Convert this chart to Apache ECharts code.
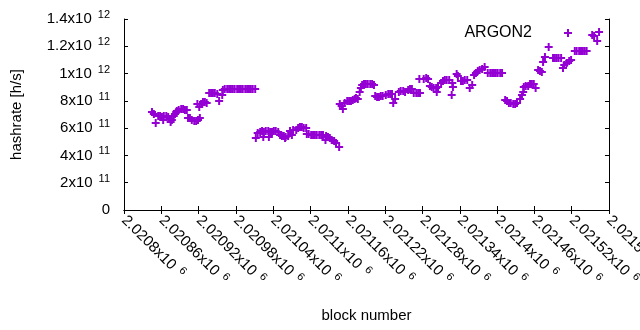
<!DOCTYPE html>
<html>
<head>
<meta charset="utf-8">
<script src="https://cdn.jsdelivr.net/npm/echarts@6/dist/echarts.min.js"></script>
<style>
  html, body { margin: 0; padding: 0; background: #fff; }
  #chart { width: 640px; height: 330px; }
</style>
</head>
<body>
<div id="chart"></div>
<script>
// block numbers and hashrates (h/s)
const blocks = [
  2020845, 2020848, 2020851, 2020855, 2020858, 2020861, 2020863, 2020864, 2020868, 2020871,
  2020874, 2020875, 2020877, 2020880, 2020882, 2020884, 2020885, 2020888, 2020892, 2020895,
  2020898, 2020901, 2020903, 2020906, 2020909, 2020913, 2020916, 2020918, 2020919, 2020921,
  2020922, 2020924, 2020927, 2020930, 2020933, 2020937, 2020940, 2020943, 2020946, 2020950,
  2020953, 2020958, 2020959, 2020962, 2020966, 2020969, 2020972, 2020975, 2020978, 2020982,
  2020985, 2020988, 2020991, 2020995, 2020998, 2021001, 2021004, 2021007, 2021011, 2021012,
  2021015, 2021019, 2021022, 2021024, 2021025, 2021028, 2021032, 2021033, 2021035, 2021038,
  2021041, 2021044, 2021048, 2021051, 2021054, 2021057, 2021059, 2021060, 2021064, 2021067,
  2021070, 2021072, 2021077, 2021080, 2021083, 2021086, 2021089, 2021093, 2021094, 2021097,
  2021101, 2021104, 2021107, 2021110, 2021114, 2021117, 2021120, 2021124, 2021125, 2021128,
  2021131, 2021134, 2021138, 2021141, 2021146, 2021147, 2021150, 2021152, 2021155, 2021159,
  2021162, 2021165, 2021168, 2021171, 2021173, 2021176, 2021179, 2021181, 2021183, 2021186,
  2021189, 2021192, 2021196, 2021199, 2021202, 2021204, 2021207, 2021210, 2021213, 2021216,
  2021221, 2021225, 2021228, 2021231, 2021233, 2021236, 2021242, 2021245, 2021249, 2021252,
  2021257, 2021260, 2021263, 2021266, 2021270, 2021273, 2021275, 2021276, 2021282, 2021286,
  2021289, 2021292, 2021295, 2021298, 2021302, 2021303, 2021305, 2021310, 2021313, 2021316,
  2021319, 2021323, 2021327, 2021328, 2021329, 2021335, 2021337, 2021342, 2021345, 2021348,
  2021352, 2021356, 2021360, 2021363, 2021366, 2021369, 2021372, 2021376, 2021380, 2021385,
  2021389, 2021392, 2021395, 2021398, 2021401, 2021405, 2021408, 2021413, 2021416, 2021419,
  2021422, 2021426, 2021429, 2021432, 2021437, 2021440, 2021442, 2021443, 2021446, 2021450,
  2021453, 2021456, 2021459, 2021462, 2021466, 2021469, 2021472, 2021474, 2021477, 2021483,
  2021490, 2021493, 2021496, 2021499, 2021503, 2021506, 2021508, 2021512, 2021516, 2021519,
  2021525, 2021528, 2021532, 2021535, 2021538, 2021541, 2021544, 2021553, 2021556, 2021561,
  2021564
];
const hashrate = [
  7.18e11, 7.04e11, 6.38e11, 6.89e11, 6.89e11, 6.82e11, 6.60e11, 6.89e11, 6.89e11, 6.82e11,
  6.67e11, 6.45e11, 6.60e11, 6.89e11, 7.04e11, 7.18e11, 7.26e11, 7.33e11, 7.40e11, 7.40e11,
  7.33e11, 7.33e11, 6.74e11, 6.74e11, 6.60e11, 6.52e11, 6.52e11, 7.77e11, 6.60e11, 7.55e11,
  6.74e11, 7.77e11, 7.92e11, 7.92e11, 7.84e11, 8.58e11, 8.58e11, 8.58e11, 8.58e11, 8.50e11,
  7.99e11, 8.43e11, 8.80e11, 8.87e11, 8.87e11, 8.87e11, 8.87e11, 8.87e11, 8.87e11, 8.87e11,
  8.87e11, 8.87e11, 8.87e11, 8.87e11, 8.87e11, 8.87e11, 8.87e11, 8.87e11, 8.87e11, 5.28e11,
  5.65e11, 5.72e11, 5.79e11, 5.35e11, 5.72e11, 5.79e11, 5.79e11, 5.35e11, 5.72e11, 5.72e11,
  5.79e11, 5.79e11, 5.72e11, 5.50e11, 5.43e11, 5.43e11, 5.28e11, 5.35e11, 5.43e11, 5.79e11,
  5.50e11, 5.87e11, 5.87e11, 6.01e11, 6.09e11, 6.09e11, 6.01e11, 6.01e11, 5.57e11, 5.57e11,
  5.50e11, 5.50e11, 5.50e11, 5.50e11, 5.50e11, 5.50e11, 5.50e11, 5.13e11, 5.43e11, 5.35e11,
  5.28e11, 5.13e11, 5.06e11, 4.91e11, 4.62e11, 7.77e11, 7.62e11, 7.40e11, 7.84e11, 7.99e11,
  7.99e11, 7.99e11, 8.06e11, 8.14e11, 8.21e11, 8.14e11, 8.65e11, 8.94e11, 9.16e11, 9.24e11,
  9.24e11, 9.24e11, 9.24e11, 9.24e11, 9.16e11, 8.36e11, 8.28e11, 8.28e11, 8.36e11, 8.36e11,
  8.43e11, 8.50e11, 8.50e11, 8.50e11, 7.84e11, 8.14e11, 8.65e11, 8.72e11, 8.72e11, 8.65e11,
  8.80e11, 8.87e11, 8.87e11, 8.58e11, 8.58e11, 8.58e11, 9.60e11, 8.58e11, 9.60e11, 9.68e11,
  9.60e11, 9.09e11, 9.02e11, 8.94e11, 8.94e11, 8.65e11, 9.02e11, 9.31e11, 9.46e11, 9.53e11,
  9.53e11, 9.53e11, 8.43e11, 9.31e11, 9.02e11, 9.97e11, 9.82e11, 9.46e11, 9.46e11, 9.53e11,
  9.53e11, 8.94e11, 9.16e11, 9.90e11, 10.04e11, 10.19e11, 10.26e11, 10.34e11, 10.48e11, 10.04e11,
  10.04e11, 10.04e11, 10.04e11, 10.04e11, 10.04e11, 10.04e11, 10.04e11, 8.06e11, 7.99e11, 7.84e11,
  7.84e11, 7.77e11, 7.77e11, 7.84e11, 8.14e11, 8.43e11, 8.65e11, 9.02e11, 9.09e11, 9.09e11,
  9.24e11, 9.24e11, 9.24e11, 8.94e11, 10.26e11, 10.19e11, 10.12e11, 10.85e11, 11.22e11, 11.95e11,
  11.14e11, 11.14e11, 11.14e11, 11.14e11, 11.14e11, 10.41e11, 10.63e11, 10.78e11, 10.92e11, 11.00e11,
  11.66e11, 11.66e11, 11.66e11, 11.66e11, 11.66e11, 11.66e11, 11.66e11, 12.83e11, 12.76e11, 12.39e11,
  13.05e11
];
const seriesName = "ARGON2";

const FONT = "'Liberation Sans', Arial, sans-serif";
const plus = "path://M0,3L3,3L3,0L5,0L5,3L8,3L8,5L5,5L5,8L3,8L3,5L0,5Z";
const purple = "#9400d3";

// gnuplot style "m x10^e" labels
function sciLabel(v) {
  if (v === 0) return "{m|0}";
  const e = Math.floor(Math.log10(Math.abs(v)) + 1e-9);
  const m = parseFloat((v / Math.pow(10, e)).toFixed(6));
  return "{m|" + m + "x10}{e|" + e + "}";
}
const richText = {
  m: { fontFamily: FONT, fontSize: 15, color: "#000" },
  e: { fontFamily: FONT, fontSize: 11, color: "#000", padding: [0, 0, 8, 6] }
};

var myChart = echarts.init(document.getElementById("chart"));

option = {
  animation: false,
  grid: { left: 124, right: 31, top: 19, bottom: 120, outerBoundsMode: "none", containLabel: false },
  legend: {
    show: true,
    data: [seriesName],
    right: 63,
    top: 20,
    align: "right",
    itemWidth: 8,
    itemHeight: 8,
    textStyle: { fontFamily: FONT, fontSize: 16, color: "#000", padding: [0, 27, 0, 0] }
  },
  xAxis: [
    {
      type: "value",
      min: 2020800,
      max: 2021580,
      interval: 60,
      name: "block number",
      nameLocation: "middle",
      nameGap: 98,
      nameTextStyle: { fontFamily: FONT, fontSize: 15, color: "#000" },
      axisLine: { lineStyle: { color: "#000" } },
      axisTick: { inside: true, length: 4, lineStyle: { color: "#000" } },
      splitLine: { show: false },
      axisLabel: {
        rotate: -45,
        margin: 8,
        formatter: sciLabel,
        rich: richText,
        showMinLabel: true,
        showMaxLabel: true,
        hideOverlap: false
      }
    },
    {
      type: "value",
      position: "top",
      min: 2020800,
      max: 2021580,
      interval: 60,
      axisLine: { lineStyle: { color: "#000" } },
      axisTick: { inside: true, length: 4, lineStyle: { color: "#000" } },
      axisLabel: { show: false },
      splitLine: { show: false }
    }
  ],
  yAxis: [
    {
      type: "value",
      min: 0,
      max: 1.4e12,
      interval: 2e11,
      name: "hashrate [h/s]",
      nameLocation: "middle",
      nameGap: 100,
      nameTextStyle: { fontFamily: FONT, fontSize: 15, color: "#000" },
      axisLine: { show: true, lineStyle: { color: "#000" } },
      axisTick: { show: true, inside: true, length: 4, lineStyle: { color: "#000" } },
      splitLine: { show: false },
      axisLabel: { margin: 14, formatter: sciLabel, rich: richText }
    },
    {
      type: "value",
      position: "right",
      min: 0,
      max: 1.4e12,
      interval: 2e11,
      axisLine: { show: true, lineStyle: { color: "#000" } },
      axisTick: { show: true, inside: true, length: 4, lineStyle: { color: "#000" } },
      axisLabel: { show: false },
      splitLine: { show: false }
    }
  ],
  series: [
    {
      name: seriesName,
      type: "scatter",
      symbol: plus,
      symbolSize: 8,
      itemStyle: { color: purple, opacity: 1 },
      data: blocks.map((b, i) => [b, hashrate[i]])
    }
  ]
};
myChart.setOption(option);
</script>
</body>
</html>
